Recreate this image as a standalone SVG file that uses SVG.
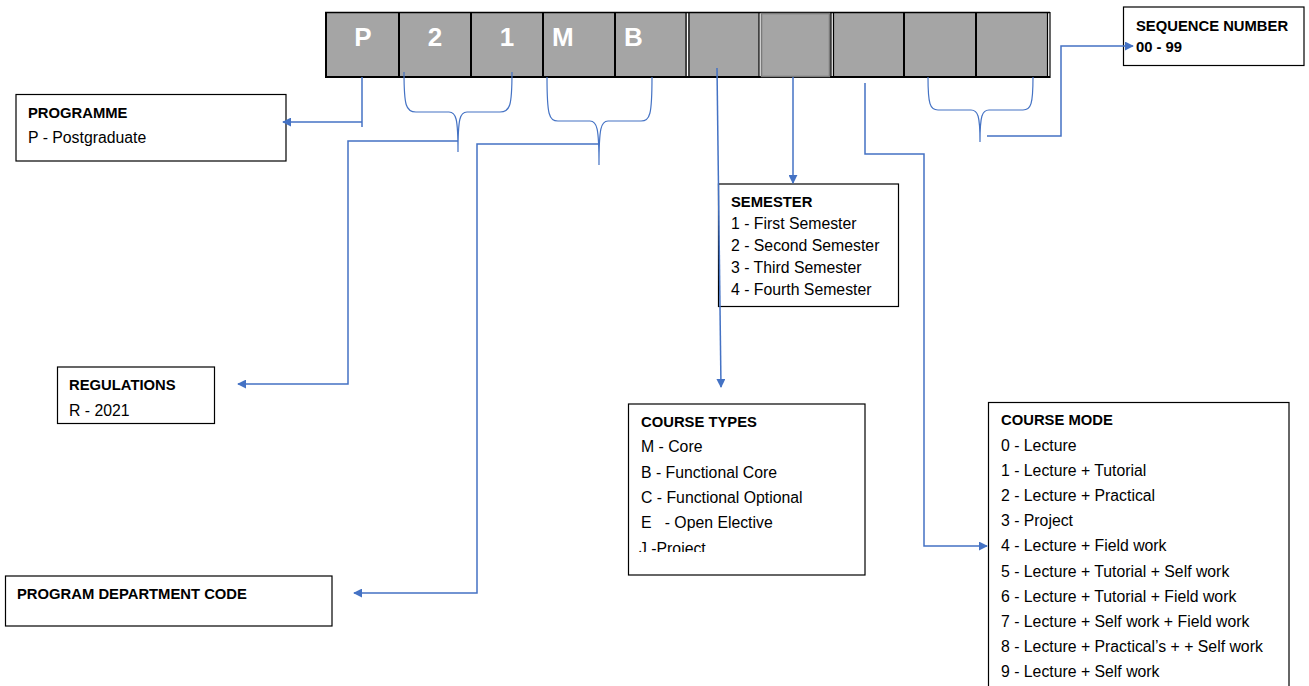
<svg xmlns="http://www.w3.org/2000/svg" width="1309" height="686" viewBox="0 0 1309 686">
<style>
text{font-family:"Liberation Sans",Arial,sans-serif;fill:#000;white-space:pre}
.t{font-weight:bold;font-size:14.8px}
.r{font-size:15.8px}
.big{font-weight:bold;font-size:26px;fill:#fff}
.box{fill:#fff;stroke:#000;stroke-width:1.2}
.cell{fill:#a5a5a5}
.conn{fill:none;stroke:#4472c4;stroke-width:1.5}
.brace{fill:none;stroke:#4472c4;stroke-width:1.2}
</style>
<defs>
<marker id="ah" viewBox="0 0 10 10" refX="9" refY="5" markerWidth="9" markerHeight="9" markerUnits="userSpaceOnUse" orient="auto">
<path d="M0,0 L10,5 L0,10 z" fill="#4472c4"/>
</marker>
<clipPath id="ctclip"><rect x="628" y="404" width="237" height="148"/></clipPath>
</defs>
<rect width="1309" height="686" fill="#fff"/>

<g id="code-strip">
<rect class="cell" x="326" y="12.5" width="723" height="65"/>
<line x1="325" y1="12.5" x2="1050" y2="12.5" stroke="#000" stroke-width="1.5"/>
<line x1="325" y1="77" x2="1050" y2="77" stroke="#000" stroke-width="2"/>
<line x1="326" y1="12" x2="326" y2="78" stroke="#000" stroke-width="2"/>
<line x1="399" y1="12" x2="399" y2="78" stroke="#000" stroke-width="2"/>
<line x1="471" y1="12" x2="471" y2="78" stroke="#000" stroke-width="2"/>
<line x1="543" y1="12" x2="543" y2="78" stroke="#000" stroke-width="2"/>
<line x1="615" y1="12" x2="615" y2="78" stroke="#000" stroke-width="2"/>
<line x1="686" y1="12" x2="686" y2="78" stroke="#000" stroke-width="1.2"/>
<line x1="687.5" y1="13.5" x2="687.5" y2="76" stroke="#fff" stroke-width="1"/>
<line x1="689" y1="12" x2="689" y2="78" stroke="#000" stroke-width="1.2"/>
<line x1="759" y1="12" x2="759" y2="78" stroke="#000" stroke-width="1.2"/>
<line x1="760.3" y1="13.5" x2="760.3" y2="76" stroke="#fff" stroke-width="1"/>
<rect x="761.5" y="13.5" width="68" height="63" fill="#a5a5a5" stroke="#7a7a7a" stroke-width="1.5"/>
<line x1="831" y1="12" x2="831" y2="78" stroke="#000" stroke-width="1.2"/>
<line x1="832.3" y1="13.5" x2="832.3" y2="76" stroke="#fff" stroke-width="1"/>
<line x1="833.5" y1="12" x2="833.5" y2="78" stroke="#000" stroke-width="1.2"/>
<line x1="904" y1="12" x2="904" y2="78" stroke="#000" stroke-width="2"/>
<line x1="976" y1="12" x2="976" y2="78" stroke="#000" stroke-width="2"/>
<line x1="1047.5" y1="12" x2="1047.5" y2="78" stroke="#000" stroke-width="1.2"/>
<line x1="1048.8" y1="13.5" x2="1048.8" y2="76" stroke="#fff" stroke-width="1"/>
<line x1="1050" y1="12" x2="1050" y2="78" stroke="#000" stroke-width="1.2"/>
<text class="big" x="363" y="46" text-anchor="middle">P</text>
<text class="big" x="435" y="46" text-anchor="middle">2</text>
<text class="big" x="507" y="46" text-anchor="middle">1</text>
<text class="big" x="552" y="46">M</text>
<text class="big" x="624" y="46">B</text>
</g>

<g id="programme">
<rect class="box" x="16" y="94.5" width="270" height="66.5"/>
<text class="t" x="28" y="118">PROGRAMME</text>
<text class="r" x="28" y="143">P - Postgraduate</text>
</g>

<g id="regulations">
<rect class="box" x="57.5" y="367" width="157" height="56.5"/>
<text class="t" x="69" y="390">REGULATIONS</text>
<text class="r" x="69" y="416">R - 2021</text>
</g>

<g id="program-department-code">
<rect class="box" x="5.5" y="576" width="326.5" height="50"/>
<text class="t" x="17" y="599">PROGRAM DEPARTMENT CODE</text>
</g>

<g id="semester">
<rect class="box" x="718.5" y="184" width="180" height="122.5"/>
<text class="t" x="731" y="207">SEMESTER</text>
<text class="r" x="731" y="229">1 - First Semester</text>
<text class="r" x="731" y="251">2 - Second Semester</text>
<text class="r" x="731" y="273">3 - Third Semester</text>
<text class="r" x="731" y="295">4 - Fourth Semester</text>
</g>

<g id="course-types">
<rect class="box" x="628.5" y="404" width="236.5" height="171"/>
<text class="t" x="641" y="427">COURSE TYPES</text>
<text class="r" x="641" y="452">M - Core</text>
<text class="r" x="641" y="478">B - Functional Core</text>
<text class="r" x="641" y="503">C - Functional Optional</text>
<text class="r" x="641" y="528">E   - Open Elective</text>
<text class="r" x="639" y="554" clip-path="url(#ctclip)">J -Project</text>
</g>

<g id="course-mode">
<rect class="box" x="988.5" y="402.5" width="300.5" height="300"/>
<text class="t" x="1001" y="425">COURSE MODE</text>
<text class="r" x="1001" y="451">0 - Lecture</text>
<text class="r" x="1001" y="476">1 - Lecture + Tutorial</text>
<text class="r" x="1001" y="501">2 - Lecture + Practical</text>
<text class="r" x="1001" y="526">3 - Project</text>
<text class="r" x="1001" y="551">4 - Lecture + Field work</text>
<text class="r" x="1001" y="577">5 - Lecture + Tutorial + Self work</text>
<text class="r" x="1001" y="602">6 - Lecture + Tutorial + Field work</text>
<text class="r" x="1001" y="627">7 - Lecture + Self work + Field work</text>
<text class="r" x="1001" y="652">8 - Lecture + Practical’s + + Self work</text>
<text class="r" x="1001" y="677">9 - Lecture + Self work</text>
</g>

<g id="sequence-number">
<rect class="box" x="1123.5" y="7" width="180.5" height="58.5"/>
<text class="t" x="1136" y="31">SEQUENCE NUMBER</text>
<text class="t" x="1136" y="52">00 - 99</text>
</g>

<g id="connectors">
<path class="brace" d="M404,72 C404,106 406,112 416,112 H449 C456,112 458,118 458,152 M512,72 C512,106 510,112 500,112 H467 C460,112 458,118 458,152"/>
<path class="brace" d="M547,77 C547,115 549,121 558,121 H590 C597,121 599,128 599,165 M652,77 C652,115 650,121 641,121 H608 C601,121 599,128 599,165"/>
<path class="brace" d="M928,77 C928,104 930,110 938,110 H971 C978,110 980,116 980,142 M1033,77 C1033,104 1031,110 1023,110 H989 C982,110 980,116 980,142"/>
<path class="conn" d="M362,77 V127"/>
<path class="conn" d="M362,122 H283" marker-end="url(#ah)"/>
<path class="conn" d="M458,141 H348 V384 H238" marker-end="url(#ah)"/>
<path class="conn" d="M599,144 H477 V593 H354" marker-end="url(#ah)"/>
<path class="conn" d="M793,77 V183" marker-end="url(#ah)"/>
<path class="conn" d="M717,68 L721,387" marker-end="url(#ah)"/>
<path class="conn" d="M865,83 V154 H924 V546 H987" marker-end="url(#ah)"/>
<path class="conn" d="M987,136 H1061 V46 H1133" marker-end="url(#ah)"/>
</g>
</svg>
